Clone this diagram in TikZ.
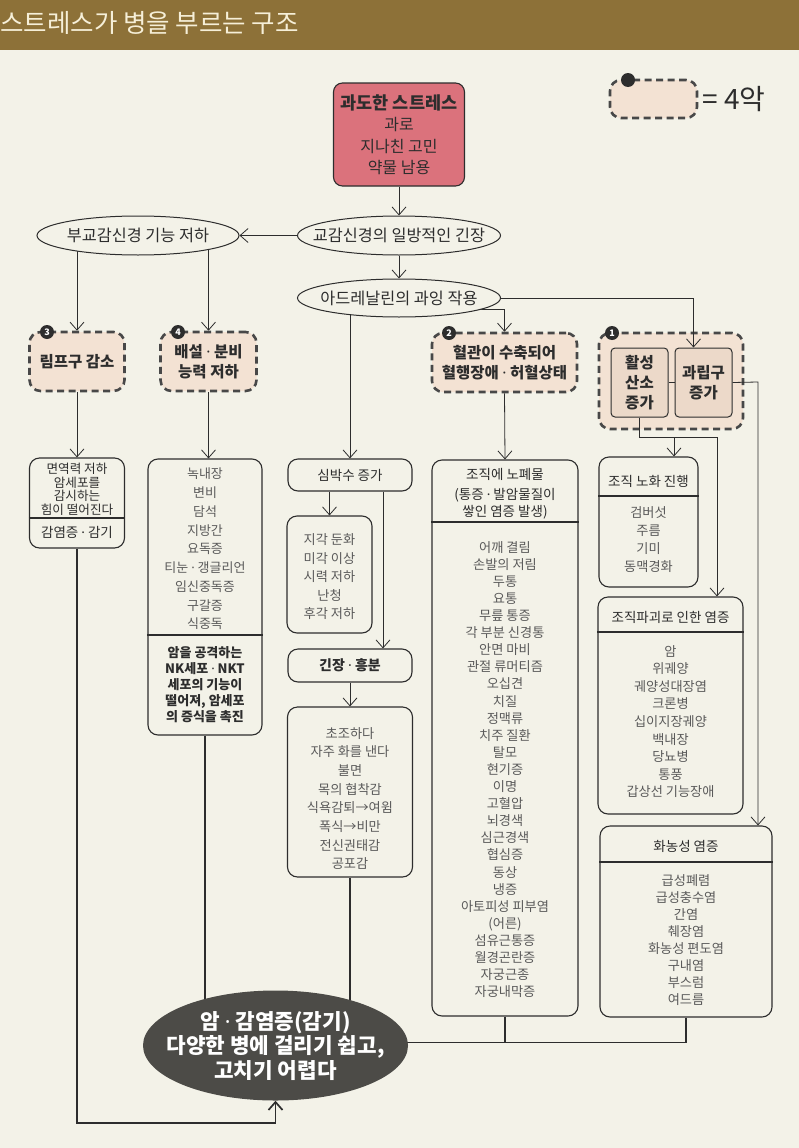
\documentclass[tikz,border=0pt]{standalone}
\usepackage{fontspec}
\setmainfont{Noto Sans CJK KR}
\newfontfamily\dotface{Noto Sans}
\newcommand{\midpt}{{\dotface ·}}
\usetikzlibrary{arrows.meta,shapes.geometric}
\pgfdeclarelayer{paper}
\pgfdeclarelayer{wires}
\pgfsetlayers{paper,wires,main}
\definecolor{papercol}{RGB}{243,242,232}
\definecolor{band}{RGB}{141,113,56}
\definecolor{bandtext}{RGB}{246,239,216}
\definecolor{peach}{RGB}{243,226,211}
\definecolor{peachdeep}{RGB}{236,217,201}
\definecolor{alarm}{RGB}{219,114,124}
\definecolor{ink}{RGB}{45,45,45}
\definecolor{soft}{RGB}{90,90,90}
\definecolor{dashgray}{RGB}{72,72,72}
\definecolor{doomgray}{RGB}{76,75,71}

\begin{document}
\begin{tikzpicture}[x=1pt,y=-1pt,>={Straight Barb[length=8pt,width=14pt]},
 wire/.style={draw=ink,line width=0.8pt},
 trunk/.style={draw=ink,line width=1.7pt},
 oval/.style={ellipse,draw=ink,line width=1pt,fill=papercol,inner sep=0pt},
 ovaltext/.style={inner sep=0pt,text=ink,font=\fontsize{16.3}{18}\selectfont},
 evil/.style={draw=dashgray,line width=2.6pt,dash pattern=on 7pt off 4.5pt,rounded corners=11pt,fill=peach,inner sep=0pt,align=center,text=ink,font=\bfseries\fontsize{15.5}{20.5}\selectfont},
 cell/.style={draw=ink,line width=1pt,rounded corners=4pt,fill=peachdeep,minimum width=57pt,minimum height=69pt,inner sep=0pt,align=center,text=ink,font=\bfseries\fontsize{15.5}{20}\selectfont},
 card/.style={draw=ink,line width=1.1pt,rounded corners=10pt,fill=papercol,inner sep=0pt},
 head/.style={inner sep=0pt,align=center,text=ink,font=\fontsize{13.5}{17}\selectfont},
 items/.style={inner sep=0pt,align=center,text=soft,font=\fontsize{13.2}{17.2}\selectfont},
 badge/.style={circle,fill=ink,text=white,inner sep=0pt,minimum size=14pt,font=\bfseries\fontsize{9}{9}\selectfont}]
\useasboundingbox (0,0) rectangle (799,1148);
\begin{pgfonlayer}{paper}
\fill[papercol] (0,0) rectangle (799,1148);
\fill[band] (0,0) rectangle (799,50);
\end{pgfonlayer}
\node[anchor=west,inner sep=0pt,text=bandtext,font=\fontsize{25.5}{26}\selectfont] (title) at (0,23) {스트레스가 병을 부르는 구조};
% legend
\node[evil,minimum width=87pt,minimum height=38pt] (key) at (653.5,99) {};
\node[badge] (keydot) at (628,80) {};
\node[anchor=west,inner sep=0pt,text=ink,font=\fontsize{28}{28}\selectfont] (keytext) at (702,99) {= 4악};
% top chain
\node[draw=ink,line width=1.1pt,rounded corners=9pt,fill=alarm,minimum width=131pt,minimum height=103pt,align=center,text=ink,font=\fontsize{16}{21.5}\selectfont] (stress) at (399,134.5) {{\bfseries\fontsize{17.5}{21.5}\selectfont 과도한 스트레스}\\과로\\지나친 고민\\약물 남용};
\node[oval,minimum width=203pt,minimum height=39pt] (sympa) at (399,235.5) {};
\node[ovaltext] (sympatext) at (sympa) {교감신경의 일방적인 긴장};
\node[oval,minimum width=202pt,minimum height=39pt] (parasym) at (138,235.5) {};
\node[ovaltext] (parasymtext) at (parasym) {부교감신경 기능 저하};
\node[oval,minimum width=203pt,minimum height=38pt] (adren) at (399,298) {};
\node[ovaltext] (adrentext) at (adren) {아드레날린의 과잉 작용};
% the four evils
\node[evil,minimum width=95pt,minimum height=59pt] (lymph) at (77,361.5) {림프구 감소};
\node[evil,minimum width=96pt,minimum height=59pt] (excrete) at (208.5,361.5) {배설 \midpt\ 분비\\능력 저하};
\node[evil,minimum width=145pt,minimum height=59pt] (vessel) at (504.5,362.5) {혈관이 수축되어\\혈행장애 \midpt\ 허혈상태};
\node[evil,minimum width=144pt,minimum height=96pt] (radical) at (671,381) {};
\node[cell] (oxygen) at (639.5,382.5) {활성\\산소\\증가};
\node[cell] (granul) at (703.5,382.5) {과립구\\증가};
\foreach \n/\bx/\by in {3/47/332,4/178/332,2/449/333,1/612/333}
  \node[badge] (badge\n) at (\bx,\by) {\n};
% result cards
\node[card,minimum width=95pt,minimum height=90pt] (immune) at (77,503) {};
\node[card,minimum width=114pt,minimum height=276pt] (organs) at (205,597) {};
\node[card,head,minimum width=124pt,minimum height=32pt] (heart) at (350,475) {심박수 증가};
\node[card,minimum width=85pt,minimum height=117pt] (sense) at (329.5,574.5) {};
\node[card,head,font=\bfseries\fontsize{14}{17}\selectfont,minimum width=124pt,minimum height=33pt] (tense) at (350,665.5) {긴장 \midpt\ 흥분};
\node[card,minimum width=125pt,minimum height=170pt] (mood) at (350,792) {};
\node[card,minimum width=146pt,minimum height=556pt] (waste) at (505,738) {};
\node[card,minimum width=99pt,minimum height=130pt] (aging) at (648.5,522) {};
\node[card,minimum width=145pt,minimum height=217pt] (fire) at (670.5,705.5) {};
\node[card,minimum width=172pt,minimum height=191pt] (pus) at (686,921.5) {};
\foreach \b/\dy in {immune/518,organs/635,waste/522,aging/496,fire/632,pus/862}
  \draw[line width=1.1pt,draw=ink] (\b.west |- 0,\dy) -- (\b.east |- 0,\dy);
% card texts
\node[head,font=\fontsize{12.6}{13.5}\selectfont] (immunetext) at (77,489.2) {면역력 저하\\암세포를\\감시하는\\힘이 떨어진다};
\node[head] (immunefoot) at (77,532) {감염증 \midpt\ 감기};
\node[items,font=\fontsize{13}{18.75}\selectfont] (organlist) at (205,549) {녹내장\\변비\\담석\\지방간\\요독증\\티눈 \midpt\ 갱글리언\\임신중독증\\구갈증\\식중독};
\node[head,font=\bfseries\fontsize{13}{16}\selectfont] (organfoot) at (205,685) {암을 공격하는\\NK세포 \midpt\ NKT\\세포의 기능이\\떨어져, 암세포\\의 증식을 촉진};
\node[items,font=\fontsize{13.2}{18.5}\selectfont] (senselist) at (329.5,577) {지각 둔화\\미각 이상\\시력 저하\\난청\\후각 저하};
\node[items,font=\fontsize{13.2}{18.7}\selectfont] (moodlist) at (350,798.5) {초조하다\\자주 화를 낸다\\불면\\목의 협착감\\식욕감퇴→여윔\\폭식→비만\\전신권태감\\공포감};
\node[head] (wastehead) at (505,474) {조직에 노폐물};
\node[head] (wastesub) at (505,503.5) {(통증 \midpt\ 발암물질이\\쌓인 염증 발생)};
\node[items,font=\fontsize{13.2}{17.1}\selectfont] (wastelist) at (505,769.5) {어깨 결림\\손발의 저림\\두통\\요통\\무릎 통증\\각 부분 신경통\\안면 마비\\관절 류머티즘\\오십견\\치질\\정맥류\\치주 질환\\탈모\\현기증\\이명\\고혈압\\뇌경색\\심근경색\\협심증\\동상\\냉증\\아토피성 피부염\\(어른)\\섬유근통증\\월경곤란증\\자궁근종\\자궁내막증};
\node[head] (aginghead) at (648.5,481) {조직 노화 진행};
\node[items,font=\fontsize{13.2}{18}\selectfont] (aginglist) at (648.5,540) {검버섯\\주름\\기미\\동맥경화};
\node[head] (firehead) at (670.5,617) {조직파괴로 인한 염증};
\node[items,font=\fontsize{13.2}{17.6}\selectfont] (firelist) at (670.5,721.5) {암\\위궤양\\궤양성대장염\\크론병\\십이지장궤양\\백내장\\당뇨병\\통풍\\갑상선 기능장애};
\node[head] (pushead) at (686,846) {화농성 염증};
\node[items,font=\fontsize{13.2}{17}\selectfont] (puslist) at (686,940.5) {급성폐렴\\급성충수염\\간염\\췌장염\\화농성 편도염\\구내염\\부스럼\\여드름};
% outcome
\node[ellipse,fill=doomgray,minimum width=265pt,minimum height=110pt,inner sep=0pt] (doom) at (275.5,1045.5) {};
\node[inner sep=0pt,align=center,text=white,font=\bfseries\fontsize{21.3}{24.5}\selectfont] (doomtext) at (275.5,1046) {암 \midpt\ 감염증(감기)\\다양한 병에 걸리기 쉽고,\\고치기 어렵다};
% connectors
\coordinate (forkox) at (717,437);
\coordinate (forkage) at (674,437);
\coordinate (puslane) at (758,382);
\draw[wire,->] (stress.south) -- (sympa.north);
\draw[wire,->] (sympa.west) -- (parasym.east);
\draw[wire,->] (sympa.south) -- (adren.north);
\draw[wire,->] (adren.east) -| ([xshift=-10pt]granul.north);
\draw[wire] (oxygen.east) -- (granul.west);
\draw[wire,->] (oxygen.south) |- (forkox) -- (forkox |- fire.north);
\draw[wire,->] (forkage) -- (forkage |- aging.north);
\draw[wire,->] (granul.east) -- (puslane) -- (puslane |- pus.north);
\draw[wire,->] (vessel.south) -- (waste.north);
\draw[wire,->] (lymph.south) -- (immune.north);
\draw[wire,->] (excrete.south) -- (excrete.south |- organs.north);
\draw[wire,->] (sense.north |- heart.south) -- (sense.north);
\draw[wire,->] ([xshift=33pt]heart.south) -- ([xshift=33pt]tense.north);
\draw[wire,->] (tense.south) -- (mood.north);
\begin{pgfonlayer}{wires}
\draw[wire,->] (lymph.north |- parasym.center) -- (lymph.north);
\draw[wire,->] (excrete.north |- parasym.center) -- (excrete.north);
\draw[wire,->] (heart.north |- adren.center) -- (heart.north);
\draw[wire,->] ([yshift=-11pt]adren.center) -| (vessel.north);
\draw[trunk] (organs.south) -- (organs.south |- doom.center);
\draw[trunk] (mood.south) -- (mood.south |- doom.center);
\draw[trunk] (waste.south) |- ([yshift=3pt]doom.center);
\draw[trunk] (pus.south) |- ([yshift=3pt]doom.center);
\draw[trunk,->] (immune.south) -- (immune.south |- 0,1123) -| (doom.south);
\end{pgfonlayer}
\end{tikzpicture}
\end{document}
